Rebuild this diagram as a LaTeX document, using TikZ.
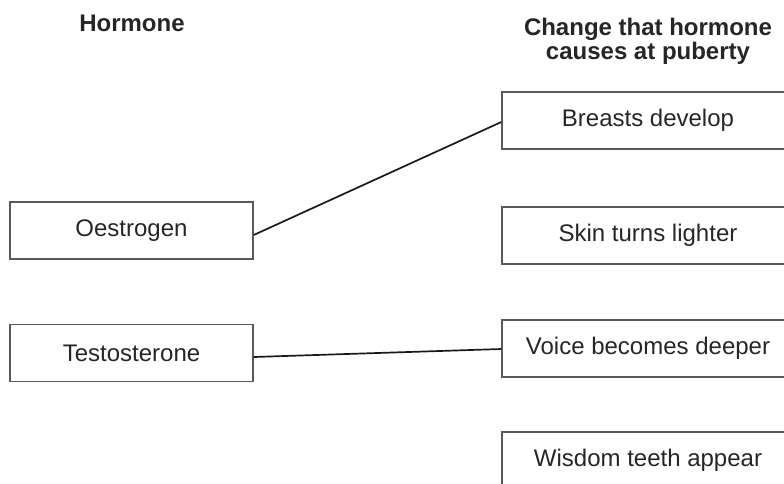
\documentclass[tikz,border=0pt]{standalone}
\usepackage{fontspec}
\setmainfont{Liberation Sans}
\usetikzlibrary{calc}
\begin{document}
\begin{tikzpicture}[x=1pt,y=-1pt,
  box/.style={draw=black!65,line width=1.4pt,rectangle,inner sep=0pt,
    minimum height=57pt,text=black!85,font=\fontsize{24}{28}\selectfont},
  lbox/.style={box,minimum width=243pt},
  rbox/.style={box,minimum width=292pt},
  head/.style={font=\fontsize{24}{24}\selectfont\bfseries,text=black!85,align=center},
  link/.style={draw=black!90,line width=1.7pt}]
\useasboundingbox (0,0) rectangle (784,483);
\clip (0,0) rectangle (784,483);
\node[head] (h1) at (132,23) {Hormone};
\node[head] (h2) at (648,41) {Change that hormone\\causes at puberty};
\node[lbox] (oest) at (131.5,230.5) {Oestrogen};
\node[lbox] (test) at (131.5,353) {Testosterone};
\node[rbox] (breast) at (648,120.5) {Breasts develop};
\node[rbox] (skin) at (648,235.5) {Skin turns lighter};
\node[rbox] (voice) at (648,348.5) {Voice becomes deeper};
\node[rbox] (wisdom) at (648,460.5) {Wisdom teeth appear};
\draw[link] ($(oest.east)+(0,4.5)$) -- ($(breast.west)+(0,1.5)$);
\draw[link] ($(test.east)+(0,4)$) -- ($(voice.west)+(0,0.5)$);
\end{tikzpicture}
\end{document}
